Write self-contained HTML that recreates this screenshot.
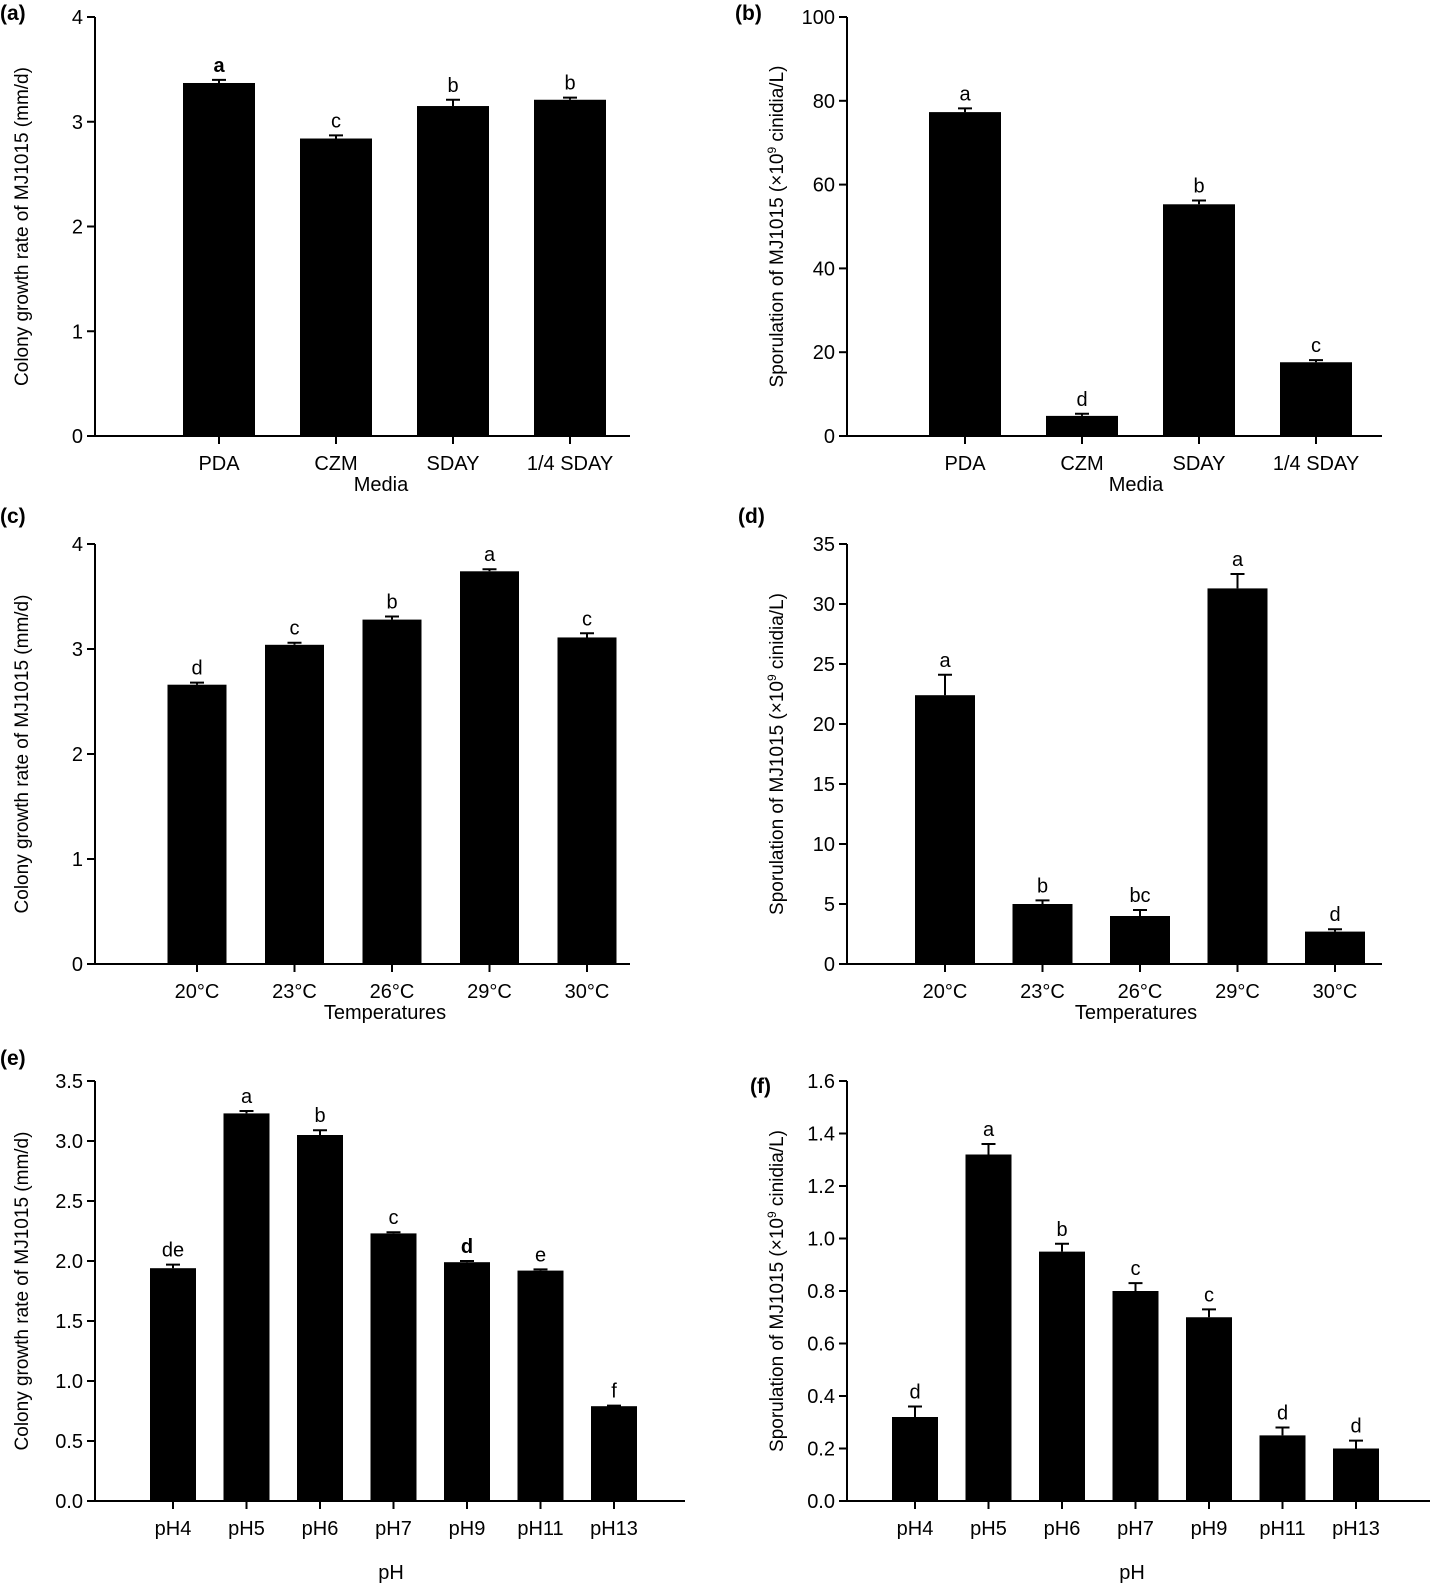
<!DOCTYPE html>
<html><head><meta charset="utf-8"><style>
html,body{margin:0;padding:0;background:#fff}
svg{display:block}
text{font-family:"Liberation Sans",Arial,sans-serif;fill:#000}
</style></head><body>
<svg id="fig" width="1446" height="1590" viewBox="0 0 1446 1590" xmlns="http://www.w3.org/2000/svg"></svg>
<script>
// Panel a
const catsA = ["PDA","CZM","SDAY","1/4 SDAY"];
const valsA = [3.37,2.84,3.15,3.21];
const errsA = [0.03,0.03,0.06,0.02];
const letA = ["a","c","b","b"];
const ticksA = [0,1,2,3,4];
// Panel b
const catsB = ["PDA","CZM","SDAY","1/4 SDAY"];
const valsB = [77.3,4.8,55.3,17.6];
const errsB = [0.9,0.5,0.9,0.5];
const letB = ["a","d","b","c"];
const ticksB = [0,20,40,60,80,100];
// Panel c
const catsC = ["20°C","23°C","26°C","29°C","30°C"];
const valsC = [2.66,3.04,3.28,3.74,3.11];
const errsC = [0.02,0.02,0.03,0.02,0.04];
const letC = ["d","c","b","a","c"];
const ticksC = [0,1,2,3,4];
// Panel d
const catsD = ["20°C","23°C","26°C","29°C","30°C"];
const valsD = [22.4,5.0,4.0,31.3,2.7];
const errsD = [1.7,0.3,0.5,1.2,0.2];
const letD = ["a","b","bc","a","d"];
const ticksD = [0,5,10,15,20,25,30,35];
// Panel e
const catsE = ["pH4","pH5","pH6","pH7","pH9","pH11","pH13"];
const valsE = [1.94,3.23,3.05,2.23,1.99,1.92,0.79];
const errsE = [0.03,0.02,0.04,0.01,0.01,0.01,0.005];
const letE = ["de","a","b","c","d","e","f"];
const ticksE = [0,0.5,1.0,1.5,2.0,2.5,3.0,3.5];
// Panel f
const catsF = ["pH4","pH5","pH6","pH7","pH9","pH11","pH13"];
const valsF = [0.32,1.32,0.95,0.80,0.70,0.25,0.20];
const errsF = [0.04,0.04,0.03,0.03,0.03,0.03,0.03];
const letF = ["d","a","b","c","c","d","d"];
const ticksF = [0,0.2,0.4,0.6,0.8,1.0,1.2,1.4,1.6];

const NS="http://www.w3.org/2000/svg";
const svg=document.getElementById('fig');
function mk(tag,parent){const e=document.createElementNS(NS,tag);parent.appendChild(e);return e;}

function panel(o){
  const g=mk('g',svg);
  
  
  const ymax=o.ticks[o.ticks.length-1];
  const y=v=>o.y0-(v/ymax)*(o.y0-o.yt);
  const x=i=>o.c0+i*o.step;
  o.vals.forEach((v,i)=>{
    const r=mk('rect',g);
    
    
    r.setAttribute('x',x(i)-o.bw/2);r.setAttribute('y',y(v));
    r.setAttribute('width',o.bw);r.setAttribute('height',o.y0-y(v));
    r.setAttribute('fill','#000');
    const et=y(v+o.errs[i]);
    const eb=mk('path',g);
    
    
    eb.setAttribute('d',`M${x(i)} ${y(v)} V${et} M${x(i)-7} ${et} H${x(i)+7}`);
    eb.setAttribute('stroke','#000');eb.setAttribute('stroke-width','2');eb.setAttribute('fill','none');
    const t=mk('text',g);
    
    
    t.setAttribute('x',x(i));t.setAttribute('y',et-8);
    t.setAttribute('text-anchor','middle');t.setAttribute('font-size','20');
    if(o.bold&&o.bold.includes(i))t.setAttribute('font-weight','bold');
    t.textContent=o.lets[i];
    const xl=mk('text',g);
    
    
    xl.setAttribute('x',x(i));xl.setAttribute('y',o.y0+34);
    xl.setAttribute('text-anchor','middle');xl.setAttribute('font-size','20');
    xl.textContent=o.cats[i];
    const tk=mk('line',g);
    
    
    tk.setAttribute('x1',x(i));tk.setAttribute('x2',x(i));tk.setAttribute('y1',o.y0);tk.setAttribute('y2',o.y0+8);
    tk.setAttribute('stroke','#000');tk.setAttribute('stroke-width','2');
  });
  const ax=mk('path',g);
  
  
  ax.setAttribute('d',`M${o.ax} ${o.yt} V${o.y0} H${o.xe}`);
  ax.setAttribute('stroke','#000');ax.setAttribute('stroke-width','2');ax.setAttribute('fill','none');
  o.ticks.forEach(v=>{
    const l=mk('line',g);
    
    
    l.setAttribute('x1',o.ax-8);l.setAttribute('x2',o.ax);l.setAttribute('y1',y(v));l.setAttribute('y2',y(v));
    l.setAttribute('stroke','#000');l.setAttribute('stroke-width','2');
    const t=mk('text',g);
    
    
    t.setAttribute('x',o.ax-12);t.setAttribute('y',y(v)+7);
    t.setAttribute('text-anchor','end');t.setAttribute('font-size','20');
    t.textContent=o.dec?v.toFixed(1):String(v);
  });
  const yt=mk('text',g);
  
  
  const cy=(o.y0+o.yt)/2;
  yt.setAttribute('transform',`translate(${o.tx},${cy}) rotate(-90)`);
  yt.setAttribute('text-anchor','middle');yt.setAttribute('font-size','19');
  if(o.spor){
    yt.innerHTML='Sporulation of MJ1015 (×10<tspan font-size="12" dy="-7">9</tspan><tspan dy="7"> cinidia/L)</tspan>';
  } else yt.textContent='Colony growth rate of MJ1015 (mm/d)';
  const xt=mk('text',g);
  
  
  xt.setAttribute('x',o.xtx);xt.setAttribute('y',o.y0+(o.xto||55));
  xt.setAttribute('text-anchor','middle');xt.setAttribute('font-size','20');
  xt.textContent=o.xtitle;
  const pl=mk('text',g);
  
  
  pl.setAttribute('x',o.lx);pl.setAttribute('y',o.ly);
  pl.setAttribute('font-size','21');pl.setAttribute('font-weight','bold');
  pl.textContent='('+o.id+')';
}

panel({id:'a',cats:catsA,vals:valsA,errs:errsA,lets:letA,ticks:ticksA,bold:[0],ax:95,yt:17,y0:436,xe:630,c0:219,step:117,bw:72,tx:28,xtitle:'Media',xtx:381,lx:0,ly:20});
panel({id:'b',cats:catsB,vals:valsB,errs:errsB,lets:letB,ticks:ticksB,ax:847,yt:17,y0:436,xe:1382,c0:965,step:117,bw:72,tx:783,xtitle:'Media',xtx:1136,lx:735,ly:20,spor:true});
panel({id:'c',cats:catsC,vals:valsC,errs:errsC,lets:letC,ticks:ticksC,ax:95,yt:544,y0:964,xe:630,c0:197,step:97.5,bw:59,tx:28,xtitle:'Temperatures',xtx:385,lx:0,ly:523});
panel({id:'d',cats:catsD,vals:valsD,errs:errsD,lets:letD,ticks:ticksD,ax:847,yt:544,y0:964,xe:1382,c0:945,step:97.5,bw:60,tx:783,xtitle:'Temperatures',xtx:1136,lx:738,ly:523,spor:true});
panel({id:'e',cats:catsE,vals:valsE,errs:errsE,lets:letE,ticks:ticksE,dec:true,bold:[4],ax:95,yt:1081,y0:1501,xe:685,c0:173,step:73.5,bw:46,tx:28,xtitle:'pH',xtx:391,xto:78,lx:0,ly:1065});
panel({id:'f',cats:catsF,vals:valsF,errs:errsF,lets:letF,ticks:ticksF,dec:true,ax:847,yt:1081,y0:1501,xe:1430,c0:915,step:73.5,bw:46,tx:783,xtitle:'pH',xtx:1132,xto:78,lx:750,ly:1093,spor:true});
</script>
</body></html>
